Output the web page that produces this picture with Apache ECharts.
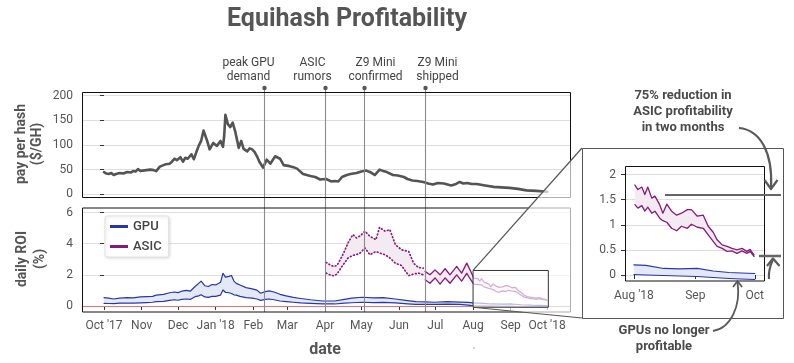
<!DOCTYPE html>
<html><head><meta charset="utf-8">
<script src="https://cdn.jsdelivr.net/npm/echarts@6/dist/echarts.min.js"></script>
<style>html,body{margin:0;padding:0;background:#fff}#c{width:794px;height:363px}</style>
</head><body><div id="c"></div>
<script>
// ===== data (x = days since 2017-10-01) =====
const monthTickDays = [0,31,61,92,123,151,182,212,243,273,304,335,365];
const monthTickLabels = ["Oct '17","Nov","Dec","Jan '18","Feb","Mar","Apr","May","Jun","Jul","Aug","Sep","Oct '18"];
const insetTickDays = [304,335,365];
const insetTickLabels = ["Aug '18","Sep","Oct"];

const payDays = [0,2,4,6,8,10,13,16,19,22,24,26,28,30,32,35,38,41,43,46,49,51,54,56,58,60,63,65,67,69,72,74,76,78,80,82,85,87,90,93,96,98,99,100,102,104,106,107,108,111,113,115,118,120,122,124,126,128,131,134,137,141,145,148,153,156,159,164,170,174,178,183,187,190,193,196,200,203,208,212,216,220,223,227,230,233,238,242,247,250,254,258,263,267,271,275,280,283,286,290,293,296,299,303,307,314,321,327,334,341,348,356,365];
const payValues = [45,42,41,43,39,41,43,42,45,44,47,46,51,47,48,49,50,49,47,56,59,61,62,66,72,69,75,66,74,72,81,71,85,98,108,129,108,91,104,98,108,96,118,161,142,136,145,148,128,94,108,92,87,93,91,86,77,66,54,70,62,77,72,59,57,55,52,41,37,35,30,31,26,27,26,35,39,41,43,46,48,44,39,50,47,45,39,38,35,31,28,27,25,22,20,23,22,20,18,21,25,22,23,21,21,18,15,14,13,11,8,7,5];

const gpuDays = [0,4,8,13,19,24,30,35,40,43,49,54,58,61,64,68,71,75,78,80,83,86,89,92,96,98,100,103,105,107,109,112,117,122,126,129,133,136,140,145,150,156,162,170,180,190,198,204,213,222,230,240,250,257,265,272,283,293,300,304,310,319,327,336,344,352,358,365];
const gpuHigh = [0.54,0.5,0.45,0.5,0.54,0.52,0.58,0.6,0.62,0.7,0.75,0.85,0.9,0.86,0.95,1.0,0.95,1.25,1.45,1.6,1.3,1.25,1.38,1.35,1.52,2.1,1.85,1.9,1.96,1.6,1.45,1.35,1.18,1.1,1.02,0.82,0.92,0.97,0.9,0.75,0.65,0.55,0.48,0.4,0.32,0.32,0.42,0.5,0.56,0.52,0.54,0.45,0.35,0.28,0.26,0.24,0.28,0.25,0.23,0.2,0.19,0.13,0.12,0.13,0.08,0.05,0.04,0.03];
const gpuLow = [0.17,0.16,0.15,0.18,0.19,0.18,0.2,0.22,0.24,0.28,0.3,0.36,0.4,0.37,0.43,0.45,0.42,0.6,0.65,0.72,0.58,0.55,0.62,0.62,0.7,1.03,0.88,0.85,0.8,0.72,0.7,0.62,0.54,0.5,0.45,0.36,0.42,0.45,0.4,0.32,0.28,0.24,0.2,0.17,0.13,0.13,0.18,0.21,0.24,0.22,0.23,0.2,0.14,0.11,0.1,0.1,0.12,0.11,0.06,0.01,0.0,-0.01,-0.02,-0.03,-0.05,-0.07,-0.08,-0.09];

const asicDays = [183,186,189,192,196,198.5,201,205,208,211,215,219,224,227,231.5,235.5,240,245,251,255,259,263,264.5,268.5,272.7,276.8,281,285,290.5,294.6,298.8,301.5,304.5,306,308,309.5,311,313,314.6,317,318.6,320.6,323,325.6,328,331,333,336,339,341.5,344,346,348.5,351,353.5,356,358.5,361,362.6,364.6];
const asicHigh = [2.8,2.65,2.54,2.6,3.18,3.6,4.05,4.58,4.37,4.5,4.8,4.47,4.26,5.05,4.8,4.9,3.94,3.61,3.5,2.75,2.47,2.43,2.22,2.0,2.32,2.0,2.39,2.0,2.54,2.11,2.75,2.32,1.79,1.7,1.75,1.6,1.75,1.53,1.57,1.4,1.23,1.41,1.27,1.19,1.23,1.3,1.3,1.17,1.19,0.97,0.85,0.7,0.6,0.57,0.53,0.5,0.53,0.47,0.51,0.4];
const asicLow = [2.11,2.0,1.94,2.05,2.54,2.8,3.08,3.25,3.3,3.4,3.72,3.29,3.5,3.4,3.29,3.08,2.75,2.6,1.95,2.05,2.11,2.0,1.68,1.46,1.8,1.4,1.8,1.46,2.0,1.6,2.1,1.75,1.4,1.33,1.38,1.27,1.35,1.23,1.27,1.13,1.08,1.05,0.93,0.88,0.97,0.93,1.01,0.95,0.93,0.8,0.67,0.57,0.53,0.47,0.48,0.43,0.48,0.43,0.47,0.37];

const eventDays = [132,182,214,264.5];
const eventLabels = ["peak GPU\ndemand","ASIC\nrumors","Z9 Mini\nconfirmed","Z9 Mini\nshipped"];
const zoomDays = [304,366];
const zoomRoi = [-0.08,2.28];

// ===== styles / layout =====
const FONT = 'Roboto';
const GPU_C = '#2537ad', ASIC_C = '#861a78';
const GPU_FILL = '#e5e8f6', ASIC_FILL = '#f4eaf2';
const TXT = '#555';
const eventLabelDx = [-16,-13,11,12];
const X_MIN = -18.12, X_MAX = 383.85;

function pairs(xs, ys, f){ const out=[]; xs.forEach((x,i)=>{ if(!f||f(x)) out.push([x,ys[i]]); }); return out; }
function band(name, xs, hi, lo, gi, fill, z, f){
  const pts = []; xs.forEach((x,i)=>{ if(!f||f(x)) pts.push([x,hi[i],lo[i]]); });
  return {type:'custom', name, xAxisIndex:gi, yAxisIndex:gi, z, clip:false, silent:true,
    data:[[pts[0][0], pts[0][1]]],
    renderItem(params, api){
      const up = pts.map(p=>api.coord([p[0],p[1]]));
      const dn = pts.slice().reverse().map(p=>api.coord([p[0],p[2]]));
      return {type:'polygon', shape:{points: up.concat(dn)}, style:{fill, stroke:null}};
    }};
}
function line(name, data, gi, color, width, z, type){
  return {type:'line', name, xAxisIndex:gi, yAxisIndex:gi, data, z, clip:false, silent:true,
    showSymbol:false, symbol:'none', lineStyle:{color, width, type: type||'solid', cap:'round', join:'round'}};
}
const zeroLine = {silent:true, symbol:'none', label:{show:false}, animation:false,
  lineStyle:{color:'#e57373', width:1.1, type:'solid'}, data:[{yAxis:0}]};

const inInset = d => d >= 304;
const shipped = eventDays[3];

const yAxisBase = (gi, min, max, interval, z) => ({gridIndex:gi, type:'value', min, max, interval, z,
  axisLine:{show:false}, axisTick:{show:true, length:4, lineStyle:{color:'#333'}},
  axisLabel:{margin:9, color:TXT, fontSize:12, fontFamily:FONT},
  splitLine:{show:true, lineStyle:{color:'#dedede', width:1}}});

const option = {
  animation:false,
  backgroundColor:'#fff',
  textStyle:{fontFamily:FONT},
  legend:{left:105, top:216, orient:'vertical', padding:[4,7,4,5], itemGap:7,
    itemWidth:18, itemHeight:3, icon:'rect', selectedMode:false,
    backgroundColor:'#fff', borderColor:'#e2e2e2', borderWidth:1, borderRadius:2,
    shadowColor:'rgba(0,0,0,0.12)', shadowBlur:3, shadowOffsetX:1, shadowOffsetY:1,
    textStyle:{color:'#444', fontSize:13, fontFamily:FONT, fontWeight:500},
    data:[{name:'GPU', itemStyle:{color:GPU_C}}, {name:'ASIC', itemStyle:{color:ASIC_C}}]},
  grid:[
    {left:82, top:95.5, width:488, height:98.8},
    {left:82, top:212.5, width:488, height:93.5},
    {left:625, top:174.5, width:139.3, height:100.5}
  ],
  xAxis:[
    {gridIndex:0, type:'value', min:X_MIN, max:X_MAX, show:false},
    {gridIndex:1, type:'value', min:X_MIN, max:X_MAX, offset:6,
      axisLine:{show:false}, splitLine:{show:false},
      axisTick:{show:true, length:4, customValues:monthTickDays, lineStyle:{color:'#333'}},
      axisLabel:{customValues:monthTickDays, margin:8, color:TXT, fontSize:12, fontFamily:FONT,
        formatter:v=>monthTickLabels[monthTickDays.indexOf(Math.round(v))] || ''}},
    {gridIndex:2, type:'value', min:299.5, max:369.8, offset:6, z:45,
      axisLine:{show:false}, splitLine:{show:false},
      axisTick:{show:true, length:4, customValues:insetTickDays, lineStyle:{color:'#333'}},
      axisLabel:{customValues:insetTickDays, margin:9, color:TXT, fontSize:12, fontFamily:FONT,
        formatter:v=>insetTickLabels[insetTickDays.indexOf(Math.round(v))] || ''}}
  ],
  yAxis:[
    yAxisBase(0, 0, 200, 50, 0),
    yAxisBase(1, 0, 6, 2, 0),
    yAxisBase(2, 0, 2, 0.5, 45)
  ],
  series:[
    line('pay', pairs(payDays, payValues), 0, '#545454', 2.6, 3),
    band('GPU', gpuDays, gpuHigh, gpuLow, 1, GPU_FILL, 2),
    Object.assign(line('GPU', pairs(gpuDays, gpuLow), 1, GPU_C, 1.2, 4), {markLine: zeroLine}),
    line('GPU', pairs(gpuDays, gpuHigh), 1, GPU_C, 1.2, 4),
    band('ASIC', asicDays, asicHigh, asicLow, 1, ASIC_FILL, 2),
    line('ASIC', pairs(asicDays, asicHigh, d=>d<shipped), 1, ASIC_C, 1.7, 4, [0.8,2.6]),
    line('ASIC', pairs(asicDays, asicLow, d=>d<shipped), 1, ASIC_C, 1.7, 4, [0.8,2.6]),
    line('ASIC', pairs(asicDays, asicHigh, d=>d>=shipped), 1, ASIC_C, 1.3, 4),
    line('ASIC', pairs(asicDays, asicLow, d=>d>=shipped), 1, ASIC_C, 1.3, 4),
    // inset
    band('GPU', gpuDays, gpuHigh, gpuLow, 2, GPU_FILL, 46, inInset),
    Object.assign(line('GPU', pairs(gpuDays, gpuLow, inInset), 2, GPU_C, 1.2, 48), {markLine: zeroLine}),
    line('GPU', pairs(gpuDays, gpuHigh, inInset), 2, GPU_C, 1.2, 48),
    band('ASIC', asicDays, asicHigh, asicLow, 2, ASIC_FILL, 46, inInset),
    line('ASIC', pairs(asicDays, asicHigh, inInset), 2, ASIC_C, 1.3, 48),
    line('ASIC', pairs(asicDays, asicLow, inInset), 2, ASIC_C, 1.3, 48)
  ]
};

const chart = echarts.init(document.getElementById('c'), null, {renderer:'canvas'});
chart.setOption(option);

// ===== decorations =====
const g = [];
const sx = d => chart.convertToPixel({gridIndex:0}, [d, 0])[0];
function rect(x,y,w,h,stroke,z,fill,lw){ g.push({type:'rect', silent:true, z, shape:{x,y,width:w,height:h}, style:{fill:fill||'transparent', stroke, lineWidth:lw||1}}); }
function seg(x1,y1,x2,y2,stroke,lw,z){ g.push({type:'line', silent:true, z, shape:{x1,y1,x2,y2}, style:{stroke, lineWidth:lw}}); }
function txt(x,y,text,size,weight,fill,z,extra,lh){ g.push(Object.assign({type:'text', silent:true, z, x, y,
  style:{text, fontSize:size, fontWeight:weight, fontFamily:FONT, fill, align:'center', verticalAlign:'middle', lineHeight:lh||Math.round(size*1.2)}}, extra||{})); }

// title & axis names
txt(347, 20, 'Equihash Profitability', 25, 'bold', '#555', 10);
txt(325, 350, 'date', 16, 'bold', '#555', 10);
txt(29, 144, 'pay per hash\n($/GH)', 14, 'bold', '#555', 10, {rotation:Math.PI/2}, 16);
txt(31, 259, 'daily ROI\n(%)', 14, 'bold', '#555', 10, {rotation:Math.PI/2}, 18);

// panel frames
rect(82.5, 92.5, 488, 105, '#111', 6);
rect(82.5, 208, 488, 104, '#111', 6);

// events
eventDays.forEach((d,i)=>{
  const x = Math.round(sx(d)) + 0.5;
  seg(x, 88, x, 312, '#8a8a8a', 1.1, 5);
  g.push({type:'circle', silent:true, z:7, shape:{cx:x, cy:88, r:2.2}, style:{fill:'#555'}});
  txt(x + eventLabelDx[i], 70, eventLabels[i], 12, 'normal', '#444', 7, {}, 14);
});

// zoom region on main chart
const p0 = chart.convertToPixel({gridIndex:1}, [zoomDays[0], zoomRoi[1]]);
const p1 = chart.convertToPixel({gridIndex:1}, [zoomDays[1], zoomRoi[0]]);
const IX = 582, IY = 148, IW = 201, IH = 170;
g.push({type:'polygon', silent:true, z:30, shape:{points:[[p0[0],p0[1]],[IX,IY],[IX,IY+IH],[p0[0],p1[1]]]}, style:{fill:'rgba(255,255,255,0.66)'}});
rect(p0[0], p0[1], p1[0]-p0[0], p1[1]-p0[1], '#333', 31);
seg(p0[0], p0[1], IX, IY, '#555', 1.2, 31);
seg(p0[0], p1[1], IX, IY+IH, '#555', 1.2, 31);

// inset box and frame
rect(IX+0.5, IY+0.5, IW, IH, '#555', 40, '#fff');
rect(625.5, 166.5, 139, 114.5, '#111', 50);

// annotations
const AC = '#5a5a5a';
txt(683, 112, '75% reduction in\nASIC profitability\nin two months', 13, 'bold', '#4a4a4a', 60, {}, 16);
txt(664, 339, 'GPUs no longer\nprofitable', 13, 'bold', '#4a4a4a', 60, {}, 16);
function curve(x1,y1,c1x,c1y,c2x,c2y,x2,y2,lw){ g.push({type:'bezierCurve', silent:true, z:60, shape:{x1,y1,cpx1:c1x,cpy1:c1y,cpx2:c2x,cpy2:c2y,x2,y2}, style:{stroke:AC, lineWidth:lw, fill:'transparent'}}); }
function head(pts,lw){ g.push({type:'polyline', silent:true, z:60, shape:{points:pts}, style:{stroke:AC, lineWidth:lw, fill:'transparent', lineJoin:'round'}}); }
curve(739,128, 760,130, 773,152, 771,188, 2.2);
head([[764.5,180],[771,189],[777.5,180]], 2.2);
seg(665,195,781,195,'#666',2,60);
seg(759,256,781,256,'#666',2.5,60);
curve(769,279, 768,270, 771,264, 773,259, 2.2);
head([[767,266],[773,258.5],[779.5,266]], 2.2);
curve(713,331, 731,328, 741,306, 737.5,282, 1.8);
head([[733,287],[737.5,281],[742,287]], 1.8);
g.push({type:'circle', silent:true, z:60, shape:{cx:474, cy:348, r:0.8}, style:{fill:'#999'}});

chart.setOption({graphic:{elements:g}});
</script></body></html>
